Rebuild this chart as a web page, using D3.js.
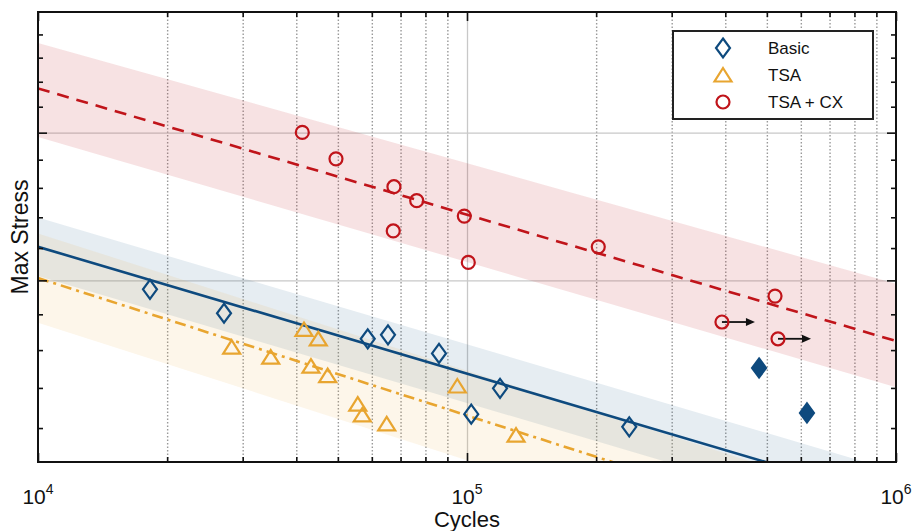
<!DOCTYPE html>
<html>
<head>
<meta charset="utf-8">
<script src="https://cdn.jsdelivr.net/npm/d3@7"></script>
<style>
  body { margin: 0; background: #fff; }
  text { font-family: "Liberation Sans", Arial, Helvetica, sans-serif; fill: #111; }
</style>
</head>
<body>
<div id="chart"></div>
<script>
// axis ticks
const xMajorTicks = [1e4, 1e5, 1e6];
const xMinorTicks = [2e4, 3e4, 4e4, 5e4, 6e4, 7e4, 8e4, 9e4, 2e5, 3e5, 4e5, 5e5, 6e5, 7e5, 8e5, 9e5];
const yMajorTicks = [200, 250];
const yMinorTicks = [160, 170, 180, 190, 210, 220, 230, 240, 260, 270, 280, 290];
const yDomain = [152, 300];

// Basic specimens
const basicCycles = [18240, 27140, 58700, 65440, 86050, 102300, 119400, 238900];
const basicStress = [197.3, 190.3, 183.1, 184.2, 179.1, 163.4, 169.9, 160.3];
const basicFilledCycles = [479500, 620100];
const basicFilledStress = [175.2, 163.7];

// TSA specimens
const tsaCycles = [28280, 34870, 41690, 43280, 45010, 47340, 55640, 57010, 64990, 94930, 130100];
const tsaStress = [180.8, 178.1, 185.7, 175.7, 183.1, 173.2, 165.9, 163.2, 161.0, 170.5, 158.3];

// TSA + CX specimens (last two are run-outs)
const cxCycles = [41310, 49500, 67560, 67310, 76340, 98560, 100700, 202300, 522400, 392900, 530800];
const cxStress = [250.1, 240.3, 230.4, 215.5, 225.6, 220.4, 205.5, 210.4, 195.3, 187.8, 183.1];
const cxRunout = [false, false, false, false, false, false, false, false, false, true, true];

// fitted S-N lines and scatter bands, at 1e4 and 1e6 cycles
const fitCycles = [1e4, 1e6];
const basicFit = [210.4, 143.4];
const basicUpper = [219.9, 149.9];
const basicLower = [201.3, 137.2];
const tsaFit = [200.7, 132.5];
const tsaUpper = [214.7, 141.8];
const tsaLower = [187.6, 123.8];
const cxFit = [267.3, 182.5];
const cxUpper = [286.3, 199.0];
const cxLower = [248.4, 170.2];

const legendLabels = ["Basic", "TSA", "TSA + CX"];

const blue = "#0e4a7e", orange = "#e8a530", red = "#c0141a";

const width = 912, height = 531;
const margin = {top: 12, right: 16, bottom: 69, left: 38};
const plotW = width - margin.left - margin.right;
const plotH = height - margin.top - margin.bottom;

const svg = d3.select("#chart").append("svg")
    .attr("width", width)
    .attr("height", height);

const x = d3.scaleLog().domain([1e4, 1e6]).range([0, plotW]);
const y = d3.scaleLog().domain(yDomain).range([plotH, 0]);

svg.append("clipPath")
    .attr("id", "plot-clip")
    .append("rect")
    .attr("width", plotW)
    .attr("height", plotH);

const g = svg.append("g")
    .attr("transform", "translate(" + margin.left + "," + margin.top + ")");

// grid lines
g.append("g")
    .attr("transform", "translate(0," + plotH + ")")
    .call(d3.axisBottom(x).tickValues(xMinorTicks).tickSize(-plotH).tickFormat(""))
    .call(a => a.select(".domain").remove())
    .call(a => a.selectAll("line").attr("stroke", "#999").attr("stroke-width", 1.4).attr("stroke-dasharray", "1.4,2.1"));

g.append("g")
    .attr("transform", "translate(0," + plotH + ")")
    .call(d3.axisBottom(x).tickValues([1e5]).tickSize(-plotH).tickFormat(""))
    .call(a => a.select(".domain").remove())
    .call(a => a.selectAll("line").attr("stroke", "#c8c8c8").attr("stroke-width", 1.3));

g.append("g")
    .call(d3.axisLeft(y).tickValues(yMajorTicks).tickSize(-plotW).tickFormat(""))
    .call(a => a.select(".domain").remove())
    .call(a => a.selectAll("line").attr("stroke", "#c8c8c8").attr("stroke-width", 1.3));

// bands and fit lines
const plot = g.append("g").attr("clip-path", "url(#plot-clip)");

function band(upper, lower, color, opacity) {
    const pts = fitCycles.map((c, i) => [x(c), y(upper[i])])
        .concat(fitCycles.map((c, i) => [x(c), y(lower[i])]).reverse());
    plot.append("path")
        .attr("d", "M" + pts.join("L") + "Z")
        .attr("fill", color)
        .attr("fill-opacity", opacity);
}

band(cxUpper, cxLower, red, 0.12);
band(basicUpper, basicLower, blue, 0.1);
band(tsaUpper, tsaLower, orange, 0.1);

const fitLine = d3.line()
    .x(d => x(d[0]))
    .y(d => y(d[1]));

function drawFit(vals, color, dash) {
    plot.append("path")
        .datum(fitCycles.map((c, i) => [c, vals[i]]))
        .attr("d", fitLine)
        .attr("fill", "none")
        .attr("stroke", color)
        .attr("stroke-width", 2.6)
        .attr("stroke-dasharray", dash);
}

drawFit(basicFit, blue, null);
drawFit(tsaFit, orange, "11,5,3,5");
drawFit(cxFit, red, "12,8");

// markers
const diamond = "M0,-9.5L7,0L0,9.5L-7,0Z";
const triangle = "M0,-7L8.5,6.5L-8.5,6.5Z";

function drawMarkers(cycles, stress, shape, color, filled) {
    g.append("g").selectAll("path")
        .data(cycles.map((c, i) => [c, stress[i]]))
        .enter()
        .append("path")
        .attr("transform", d => "translate(" + x(d[0]) + "," + y(d[1]) + ")")
        .attr("d", shape)
        .attr("fill", filled ? color : "none")
        .attr("stroke", color)
        .attr("stroke-width", 2.2);
}

drawMarkers(tsaCycles, tsaStress, triangle, orange, false);
drawMarkers(basicCycles, basicStress, diamond, blue, false);
drawMarkers(basicFilledCycles, basicFilledStress, diamond, blue, true);

const cxData = cxCycles.map((c, i) => ({cycles: c, stress: cxStress[i], runout: cxRunout[i]}));

// run-out arrows
const arrows = g.append("g").selectAll("g")
    .data(cxData.filter(d => d.runout))
    .enter()
    .append("g")
    .attr("transform", d => "translate(" + x(d.cycles) + "," + y(d.stress) + ")");
arrows.append("line")
    .attr("x1", 0).attr("x2", 26)
    .attr("stroke", "#111")
    .attr("stroke-width", 1.8);
arrows.append("path")
    .attr("d", "M24,-4L33,0L24,4Z")
    .attr("fill", "#111");

g.append("g").selectAll("circle")
    .data(cxData)
    .enter()
    .append("circle")
    .attr("cx", d => x(d.cycles))
    .attr("cy", d => y(d.stress))
    .attr("r", 6.5)
    .attr("fill", "none")
    .attr("stroke", red)
    .attr("stroke-width", 2.2);

// inward ticks on all four sides
function ticks(axis, transform, vals, size) {
    g.append("g")
        .attr("transform", transform)
        .call(axis.tickValues(vals).tickSize(-size).tickFormat(""))
        .call(a => a.select(".domain").remove())
        .call(a => a.selectAll("line").attr("stroke", "#111").attr("stroke-width", 1.6));
}

ticks(d3.axisBottom(x), "translate(0," + plotH + ")", xMinorTicks, 5);
ticks(d3.axisBottom(x), "translate(0," + plotH + ")", xMajorTicks, 9);
ticks(d3.axisTop(x), "translate(0,0)", xMinorTicks, 5);
ticks(d3.axisTop(x), "translate(0,0)", xMajorTicks, 9);
ticks(d3.axisLeft(y), "translate(0,0)", yMinorTicks, 5);
ticks(d3.axisLeft(y), "translate(0,0)", yMajorTicks, 9);
ticks(d3.axisRight(y), "translate(" + plotW + ",0)", yMinorTicks, 5);
ticks(d3.axisRight(y), "translate(" + plotW + ",0)", yMajorTicks, 9);

g.append("rect")
    .attr("width", plotW)
    .attr("height", plotH)
    .attr("fill", "none")
    .attr("stroke", "#111")
    .attr("stroke-width", 2);

// x tick labels as powers of ten
const xLabels = g.append("g").selectAll("text")
    .data(xMajorTicks)
    .enter()
    .append("text")
    .attr("x", d => x(d))
    .attr("y", plotH + 42)
    .attr("text-anchor", "middle")
    .style("font-size", "21px");
xLabels.append("tspan").text("10");
xLabels.append("tspan")
    .attr("dy", -10)
    .style("font-size", "14px")
    .text(d => Math.round(Math.log10(d)));

g.append("text")
    .attr("x", plotW / 2)
    .attr("y", plotH + 65)
    .attr("text-anchor", "middle")
    .style("font-size", "22px")
    .text("Cycles");

svg.append("text")
    .attr("transform", "translate(28," + (margin.top + plotH / 2) + ") rotate(-90)")
    .attr("text-anchor", "middle")
    .style("font-size", "23px")
    .text("Max Stress");

// legend
const legend = svg.append("g").attr("transform", "translate(673,31)");
legend.append("rect")
    .attr("width", 200)
    .attr("height", 88)
    .attr("fill", "#fff")
    .attr("stroke", "#222")
    .attr("stroke-width", 2);

const legendShapes = [
    {shape: diamond, color: blue},
    {shape: triangle, color: orange},
    {shape: null, color: red}
];
const rows = legend.selectAll("g.row")
    .data(legendLabels)
    .enter()
    .append("g")
    .attr("class", "row")
    .attr("transform", (d, i) => "translate(0," + (17 + i * 27) + ")");
rows.each(function(d, i) {
    const row = d3.select(this);
    const s = legendShapes[i];
    if (s.shape) {
        row.append("path")
            .attr("transform", "translate(50,0)")
            .attr("d", s.shape)
            .attr("fill", "none")
            .attr("stroke", s.color)
            .attr("stroke-width", 2.2);
    } else {
        row.append("circle")
            .attr("cx", 50)
            .attr("r", 6.5)
            .attr("fill", "none")
            .attr("stroke", s.color)
            .attr("stroke-width", 2.2);
    }
});
rows.append("text")
    .attr("x", 95)
    .attr("y", 6)
    .style("font-size", "17px")
    .text(d => d);
</script>
</body>
</html>
